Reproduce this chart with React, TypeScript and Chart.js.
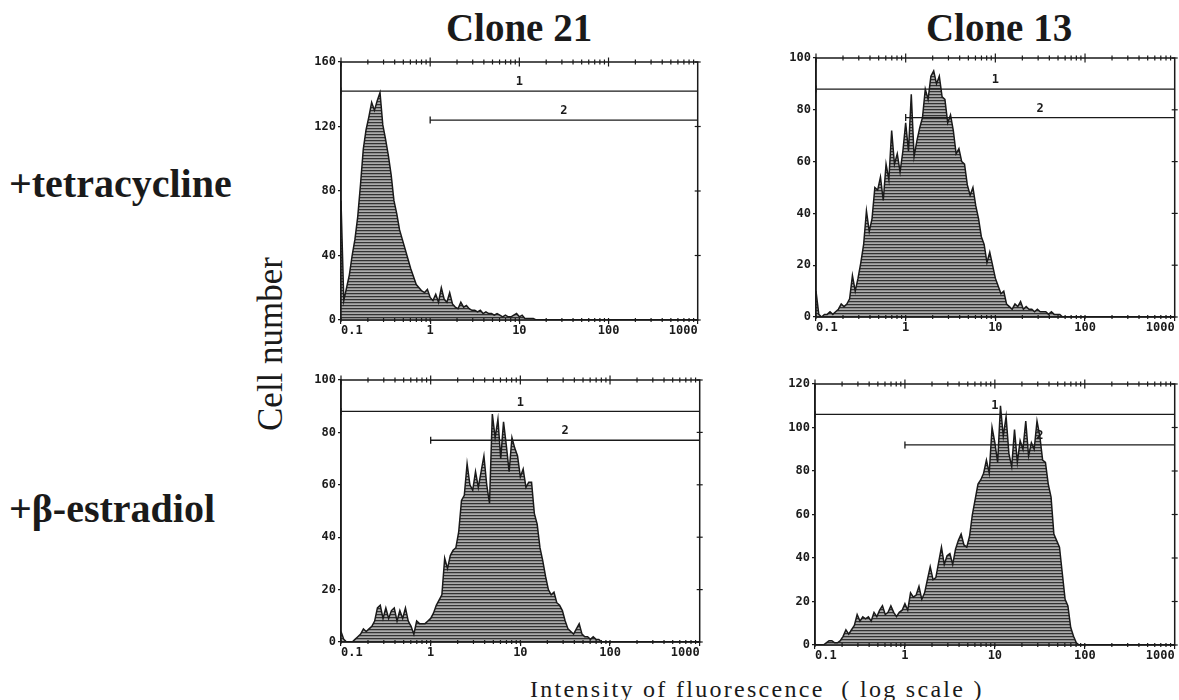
import React, { useEffect, useRef } from "react";
import { Chart, registerables } from "chart.js";

Chart.register(...registerables);

// ---------------- data ----------------
const CHANNELS_PER_DECADE = 32;
const DECADES = 4;
const X_MIN_VALUE = 0.1;
const X_TICK_VALUES = [0.1, 1, 10, 100, 1000];
const X_TICK_LABELS = ["0.1", "1", "10", "100", "1000"];

const COLUMN_TITLES = ["Clone 21", "Clone 13"];
const ROW_LABELS = ["+tetracycline", "+\u03b2-estradiol"];
const Y_AXIS_TITLE = "Cell number";
const X_AXIS_TITLE = "Intensity of fluorescence  ( log scale )";

// cell counts per channel (32 channels per decade, starting at 0.1)
const tetClone21 = [
  74, 12, 20, 28, 40, 50, 64, 84, 106, 118,
  126, 135, 130, 136, 141, 121, 112, 102, 90, 74,
  66, 56, 50, 44, 38, 32, 27, 22, 20, 18,
  17, 19, 14, 12, 16, 11, 20, 13, 11, 17,
  10, 8, 7, 11, 8, 9, 7, 6, 6, 5,
  6, 4, 5, 4, 4, 3, 4, 3, 2, 3,
  2, 2, 3, 4, 2, 3, 1, 1, 1, 1, 0,
];

const tetClone13 = [
  10, 1, 0, 1, 1, 2, 1, 2, 3, 5,
  4, 5, 7, 16, 10, 15, 21, 28, 41, 33,
  38, 50, 49, 54, 45, 59, 53, 72, 59, 63,
  56, 64, 75, 64, 86, 62, 68, 73, 77, 88,
  84, 93, 95, 90, 93, 85, 84, 75, 78, 72,
  63, 65, 60, 59, 51, 47, 50, 43, 38, 31,
  28, 21, 25, 20, 15, 12, 9, 10, 5, 4,
  3, 5, 4, 6, 3, 4, 3, 3, 2, 3,
  2, 2, 2, 1, 2, 1, 1, 1, 0,
];

const estClone21 = [
  4, 1, 0, 0, 0, 1, 2, 3, 5, 4,
  5, 6, 8, 13, 14, 9, 13, 9, 12, 13,
  8, 12, 9, 13, 8, 6, 3, 8, 7, 7,
  7, 8, 9, 11, 14, 16, 18, 32, 28, 33,
  35, 36, 42, 54, 56, 68, 60, 58, 65, 59,
  65, 71, 60, 53, 87, 78, 85, 70, 84, 75,
  65, 78, 74, 71, 63, 66, 59, 61, 61, 49,
  45, 36, 31, 25, 20, 18, 19, 15, 14, 12,
  8, 5, 4, 3, 5, 7, 3, 2, 2, 1,
  2, 1, 1, 0,
];

const estClone13 = [
  0, 0, 0, 0, 1, 2, 2, 1, 1, 2,
  4, 7, 5, 7, 9, 14, 11, 13, 12, 13,
  11, 15, 13, 16, 18, 14, 15, 18, 15, 13,
  15, 16, 19, 16, 24, 22, 23, 27, 21, 24,
  30, 36, 30, 31, 38, 45, 37, 41, 42, 37,
  44, 48, 51, 46, 45, 50, 60, 67, 74, 76,
  79, 85, 79, 100, 93, 84, 110, 96, 105, 88,
  82, 99, 84, 94, 90, 103, 87, 93, 90, 103,
  96, 85, 84, 74, 68, 51, 48, 45, 33, 21,
  18, 8, 4, 1, 0,
];

const Y_MAX = [160, 100, 100, 120];
const Y_STEP = [40, 20, 20, 20];
const GATE1_LEVELS = [142, 88, 88, 106];
const GATE2_LEVELS = [124, 77, 77, 92];
const GATE1_RANGE = [0.1, 1000];
const GATE2_RANGE = [1, 1000];
const GATE_LABELS = ["1", "2"];

const SERIES = [tetClone21, tetClone13, estClone21, estClone13];

// ---------------- layout (chart areas, px) ----------------
const AREAS = [
  { l: 341, r: 700, t: 62, b: 320 },
  { l: 816, r: 1177, t: 58, b: 317 },
  { l: 341, r: 702, t: 380, b: 642 },
  { l: 815, r: 1177, t: 384, b: 645 },
];
const Y_AXIS_W = 51;
const X_AXIS_H = 25;
const PAD_TOP = 12;
const AUTO_RIGHT_PAD = 3; // Chart.js keeps 3px right of the x axis

const INK = "#1a1a1a";
const TICK_FONT = { family: '"DejaVu Sans Mono", monospace', size: 12, weight: "bold" as const };

const toChannel = (v: number) => CHANNELS_PER_DECADE * Math.log10(v / X_MIN_VALUE);

function makeStripePattern(ctx: CanvasRenderingContext2D) {
  const c = document.createElement("canvas");
  c.width = 4;
  c.height = 3;
  const g = c.getContext("2d")!;
  g.fillStyle = "#333333";
  g.fillRect(0, 0, 4, 1);
  g.fillStyle = "#8c8c8c";
  g.fillRect(0, 1, 4, 1);
  g.fillStyle = "#ababab";
  g.fillRect(0, 2, 4, 1);
  return ctx.createPattern(c, "repeat");
}

const framePlugin = {
  id: "frame",
  afterDraw(chart: any, _args: any, opts: any) {
    const { ctx, chartArea: a, scales } = chart;
    const xs = scales.x;
    const ys = scales.y;
    ctx.save();
    ctx.strokeStyle = INK;
    ctx.lineWidth = 1.5;
    ctx.strokeRect(a.left, a.top, a.right - a.left, a.bottom - a.top);
    ctx.lineWidth = 1.2;
    const seg = (x1: number, y1: number, x2: number, y2: number) => {
      ctx.beginPath();
      ctx.moveTo(x1, y1);
      ctx.lineTo(x2, y2);
      ctx.stroke();
    };
    // log ticks on top and bottom borders
    for (let d = 0; d < DECADES; d++) {
      for (let k = 1; k <= 9; k++) {
        const px = xs.getPixelForValue(CHANNELS_PER_DECADE * (d + Math.log10(k)));
        const len = k === 1 ? 4.5 : 2.5;
        seg(px, a.top - len, px, a.top + len);
        seg(px, a.bottom - 2, px, a.bottom + 2);
      }
    }
    // ticks on right border
    for (const t of ys.ticks) {
      const py = ys.getPixelForValue(t.value);
      seg(a.right - 3, py, a.right + 3, py);
    }
    // gate labels
    ctx.fillStyle = INK;
    ctx.font = 'bold 12px "DejaVu Sans Mono", monospace';
    ctx.textAlign = "center";
    ctx.textBaseline = "bottom";
    for (const g of opts.gates || []) {
      const x1 = xs.getPixelForValue(toChannel(g.from));
      const x2 = xs.getPixelForValue(toChannel(g.to));
      const py = ys.getPixelForValue(g.level);
      ctx.fillText(g.label, (x1 + x2) / 2, py - 3);
    }
    ctx.restore();
  },
};

function Panel({ idx }: { idx: number }) {
  const ref = useRef<HTMLCanvasElement | null>(null);
  const area = AREAS[idx];
  const left = area.l - Y_AXIS_W;
  const top = area.t - PAD_TOP;
  const width = area.r + AUTO_RIGHT_PAD - left;
  const height = area.b - top + X_AXIS_H;

  useEffect(() => {
    const canvas = ref.current!;
    const ctx = canvas.getContext("2d")!;
    const pattern = makeStripePattern(ctx);
    const values = SERIES[idx];
    const gates = [
      { label: GATE_LABELS[0], from: GATE1_RANGE[0], to: GATE1_RANGE[1], level: GATE1_LEVELS[idx] },
      { label: GATE_LABELS[1], from: GATE2_RANGE[0], to: GATE2_RANGE[1], level: GATE2_LEVELS[idx] },
    ];
    const gateDataset = (g: any) => ({
      type: "line" as const,
      data: [
        { x: toChannel(g.from), y: g.level },
        { x: toChannel(g.to), y: g.level },
      ],
      borderColor: INK,
      borderWidth: 1.3,
      pointStyle: "line" as const,
      pointRotation: 90,
      pointRadius: 3.5,
      pointBorderWidth: 1.3,
      pointBorderColor: INK,
      fill: false,
    });
    const chart = new Chart(ctx, {
      type: "line",
      data: {
        datasets: [
          ...gates.map(gateDataset),
          {
            data: values.map((v, i) => ({ x: i, y: v })),
            borderColor: INK,
            borderWidth: 1.5,
            backgroundColor: pattern as any,
            fill: "origin",
            pointRadius: 0,
            tension: 0,
          },
        ],
      },
      options: {
        animation: false,
        responsive: false,
        events: [],
        layout: { padding: { left: 0, top: PAD_TOP, right: 0, bottom: 0 } },
        plugins: {
          legend: { display: false },
          tooltip: { enabled: false },
          frame: { gates },
        } as any,
        scales: {
          x: {
            type: "linear",
            min: 0,
            max: CHANNELS_PER_DECADE * DECADES,
            afterBuildTicks: (s: any) => {
              s.ticks = X_TICK_VALUES.map((v) => ({ value: toChannel(v) }));
            },
            afterFit: (s: any) => {
              s.height = X_AXIS_H;
            },
            ticks: {
              callback: (_v: any, i: number) => X_TICK_LABELS[i],
              align: "inner",
              autoSkip: false,
              maxRotation: 0,
              padding: 0,
              color: INK,
              font: TICK_FONT,
            },
            grid: { drawOnChartArea: false, tickLength: 4, color: INK, lineWidth: 1.2 },
            border: { color: INK, width: 1.5 },
          },
          y: {
            type: "linear",
            min: 0,
            max: Y_MAX[idx],
            afterFit: (s: any) => {
              s.width = Y_AXIS_W;
            },
            ticks: { stepSize: Y_STEP[idx], padding: 2, color: INK, font: TICK_FONT },
            grid: { drawOnChartArea: false, tickLength: 3, color: INK, lineWidth: 1.2 },
            border: { color: INK, width: 1.5 },
          },
        },
      },
      plugins: [framePlugin],
    });
    return () => chart.destroy();
  }, [idx]);

  return (
    <canvas
      ref={ref}
      width={width}
      height={height}
      style={{ position: "absolute", left, top, width, height }}
    />
  );
}

const serif = '"Liberation Serif", "DejaVu Serif", serif';

export default function App() {
  return (
    <div
      style={{
        position: "absolute",
        left: 0,
        top: 0,
        width: 1179,
        height: 700,
        overflow: "hidden",
        background: "#fff",
        color: INK,
        fontFamily: serif,
      }}
    >
      <div style={{ position: "absolute", left: 519, top: 8, transform: "translateX(-50%)", fontSize: 39, fontWeight: "bold", lineHeight: 1, whiteSpace: "nowrap" }}>
        {COLUMN_TITLES[0]}
      </div>
      <div style={{ position: "absolute", left: 999, top: 8, transform: "translateX(-50%)", fontSize: 39, fontWeight: "bold", lineHeight: 1, whiteSpace: "nowrap" }}>
        {COLUMN_TITLES[1]}
      </div>
      <div style={{ position: "absolute", left: 9, top: 164, fontSize: 40, fontWeight: "bold", lineHeight: 1, whiteSpace: "nowrap" }}>
        {ROW_LABELS[0]}
      </div>
      <div style={{ position: "absolute", left: 9, top: 489, fontSize: 40, fontWeight: "bold", lineHeight: 1, whiteSpace: "nowrap" }}>
        {ROW_LABELS[1]}
      </div>
      <div
        style={{
          position: "absolute",
          left: 270,
          top: 344,
          transform: "translate(-50%, -50%) rotate(-90deg)",
          fontSize: 35,
          lineHeight: 1,
          whiteSpace: "nowrap",
        }}
      >
        {Y_AXIS_TITLE}
      </div>
      <div style={{ position: "absolute", left: 530, top: 677, fontSize: 24, letterSpacing: 2.3, lineHeight: 1, whiteSpace: "pre" }}>
        {X_AXIS_TITLE}
      </div>
      {[0, 1, 2, 3].map((i) => (
        <Panel key={i} idx={i} />
      ))}
    </div>
  );
}
